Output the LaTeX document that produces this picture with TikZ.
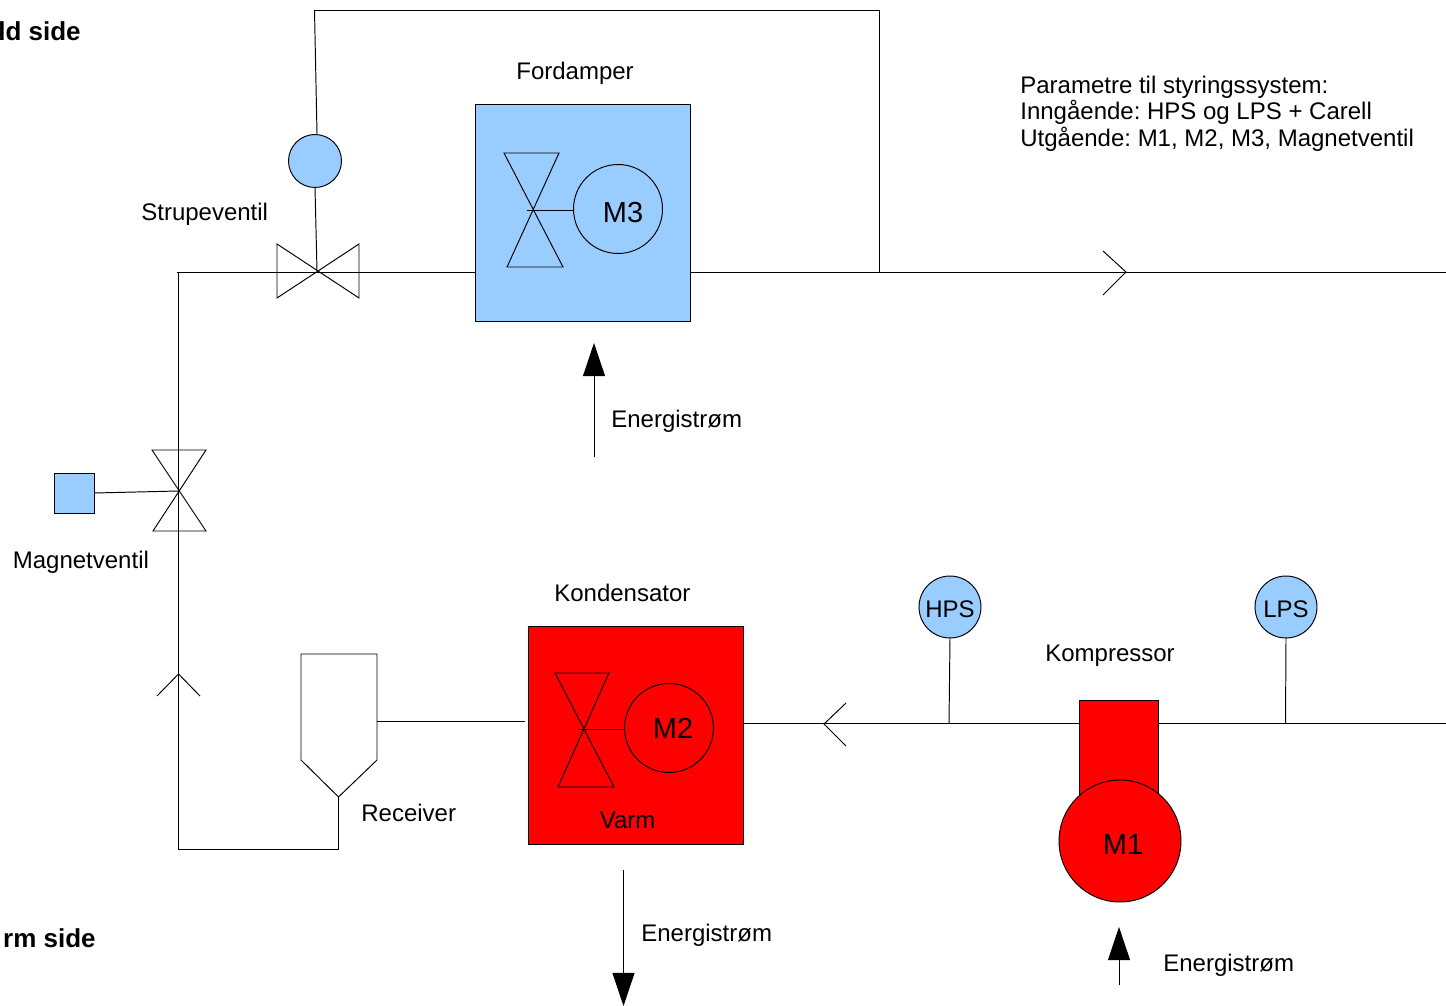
\documentclass[tikz,border=0pt]{standalone}
\usepackage{fontspec}
\setmainfont{Liberation Sans}
\frenchspacing
\usetikzlibrary{arrows.meta}
\tikzset{
  line/.style={line width=0.55pt},
  label/.style={inner sep=0pt,anchor=base west,font=\fontsize{13.66}{15}\selectfont},
  sidelabel/.style={inner sep=0pt,anchor=base east,font=\bfseries\fontsize{14.8}{17}\selectfont},
  motorlabel/.style={inner sep=0pt,anchor=base,font=\fontsize{16.5}{18}\selectfont},
  gaugelabel/.style={inner sep=0pt,anchor=base,font=\fontsize{13.66}{15}\selectfont},
  box/.style={draw,line width=0.55pt,minimum width=4.3cm,minimum height=4.36cm,inner sep=0pt,outer sep=0pt},
  motor/.style={circle,draw,line width=0.55pt,minimum size=1.78cm,inner sep=0pt,outer sep=0pt},
  gauge/.style={circle,draw,line width=0.55pt,fill=coldblue,minimum size=1.24cm,inner sep=0pt,outer sep=0pt},
  flow/.style={line width=0.55pt,-{Triangle[length=18.8pt,width=12.5pt]}}
}
\definecolor{coldblue}{RGB}{153,204,255}
\definecolor{hotred}{RGB}{255,0,0}
\begin{document}
\begin{tikzpicture}[x=0.02cm,y=-0.02cm]
  \useasboundingbox (0.5,0) rectangle (1446.5,1006);
  % points on the pipes
  \coordinate (cornerA) at (179,272);
  \coordinate (pipestart) at (177,272);
  \coordinate (cornerB) at (179,849);
  \coordinate (cornerC) at (339,849);
  \coordinate (coldend) at (1447,272);
  \coordinate (warmend) at (1447,723);
  \coordinate (tapcold) at (880,272);
  \coordinate (taptop) at (880,10);
  \coordinate (sensortop) at (315,10);
  \coordinate (sensorin) at (317.5,134);
  \coordinate (throttle) at (317.5,271);
  \coordinate (solenoid) at (179,491);
  \coordinate (recvout) at (339,797);
  \coordinate (recvside) at (377.5,721);
  \coordinate (condin) at (525,721);
  \coordinate (hpstap) at (949.5,723);
  \coordinate (lpstap) at (1286,723);
  % pipes
  \draw[line] (cornerA) -- (cornerB) -- (cornerC) -- (recvout);
  \draw[line] (recvside) -- (condin);
  \draw[line] (743,723) -- (warmend);
  \draw[line] (pipestart) -- (475,272);
  \draw[line] (690,272) -- (coldend);
  \draw[line] (tapcold) -- (taptop) -- (sensortop);
  % flow direction marks
  \draw[line] (1103.5,251) -- (1126.5,272) -- (1103.5,295);
  \draw[line] (846.5,703) -- (824.5,724) -- (846.5,746);
  \draw[line] (157.5,696) -- (179,674) -- (200.5,696);
  % evaporator
  \node[box,fill=coldblue] (fordamper) at (583,213) {};
  \draw[line] (504.5,153) -- (563.5,267) -- (507.5,267) -- (559.5,153) -- cycle;
  \node[motor] (m3) at (618.5,209) {};
  \coordinate (m3valve) at (527.5,210);
  \draw[line] (m3valve) -- (m3.west |- m3valve);
  \node[motorlabel] (m3text) at (623.5,223) {M3};
  % condenser
  \node[box,fill=hotred] (kondensator) at (636,735) {};
  \draw[line] (555.5,673) -- (614.5,787) -- (558.5,787) -- (609.5,673) -- cycle;
  \node[motor] (m2) at (669.5,728) {};
  \coordinate (m2valve) at (578.5,729);
  \draw[line] (m2valve) -- (m2.west |- m2valve);
  \node[motorlabel] (m2text) at (673.5,738) {M2};
  % throttle valve with its sensor
  \draw[line] (277.5,244) -- (359.5,298) -- (359.5,244) -- (277.5,298) -- cycle;
  \node[circle,draw,line width=0.55pt,fill=coldblue,minimum size=1.06cm,inner sep=0pt,outer sep=0pt] (sensor) at (315.5,161) {};
  \draw[line] (sensortop) -- (sensorin);
  \draw[line] (sensor.south) -- (throttle);
  % solenoid valve
  \draw[line] (152.5,450) -- (206.5,450) -- (153.5,531) -- (206.5,531) -- cycle;
  \node[draw,line width=0.55pt,fill=coldblue,minimum size=0.8cm,inner sep=0pt,outer sep=0pt] (coil) at (75,493) {};
  \draw[line] (coil.east) -- (solenoid);
  % receiver
  \draw[line] (301.5,654) -- (377.5,654) -- (recvside) -- (377.5,760) -- (recvout) -- (301.5,760) -- cycle;
  % gauges
  \node[gauge] (hps) at (950.5,607) {};
  \node[gauge] (lps) at (1286.5,607) {};
  \node[gaugelabel] (hpstext) at (950.5,617) {HPS};
  \node[gaugelabel] (lpstext) at (1286.5,617) {LPS};
  \draw[line] (hps.south) -- (hpstap);
  \draw[line] (lps.south) -- (lpstap);
  % compressor
  \node[draw,line width=0.55pt,fill=hotred,minimum width=1.58cm,minimum height=2cm,inner sep=0pt,outer sep=0pt] (kompressor) at (1119,750) {};
  \node[circle,draw,line width=0.55pt,fill=hotred,minimum size=2.44cm,inner sep=0pt,outer sep=0pt] (m1) at (1120.5,841) {};
  \node[motorlabel] (m1text) at (1123.5,854) {M1};
  % energy arrows
  \coordinate (coldfrom) at (594.5,457);
  \coordinate (coldto) at (594.5,343);
  \coordinate (warmfrom) at (624,870);
  \coordinate (warmto) at (624,1006);
  \coordinate (compfrom) at (1119.5,985);
  \coordinate (compto) at (1119.5,927);
  \draw[flow] (coldfrom) -- (coldto);
  \draw[flow] (warmfrom) -- (warmto);
  \draw[flow] (compfrom) -- (compto);
  % texts
  \node[sidelabel] (coldside) at (81.5,41) {ld side};
  \node[sidelabel] (warmside) at (96.5,947) {rm side};
  \node[label] (fordampertext) at (516.5,80) {Fordamper};
  \node[label] (strupetext) at (141.5,221) {Strupeventil};
  \node[label] (magnettext) at (13,568) {Magnetventil};
  \node[label] (kondtext) at (554.5,601) {Kondensator};
  \node[label] (komptext) at (1045.5,661) {Kompressor};
  \node[label] (recvtext) at (361.5,821) {Receiver};
  \node[label] (varmtext) at (600,828) {Varm};
  \node[label] (energyA) at (611.5,428) {Energistrøm};
  \node[label] (energyB) at (641.5,941) {Energistrøm};
  \node[label] (energyC) at (1163.5,971) {Energistrøm};
  \node[label] (paramA) at (1020.5,94) {Parametre til styringssystem:};
  \node[label] (paramB) at (1020.5,120) {Inngående: HPS og LPS + Carell};
  \node[label] (paramC) at (1020.5,147) {Utgående: M1, M2, M3, Magnetventil};
\end{tikzpicture}
\end{document}
